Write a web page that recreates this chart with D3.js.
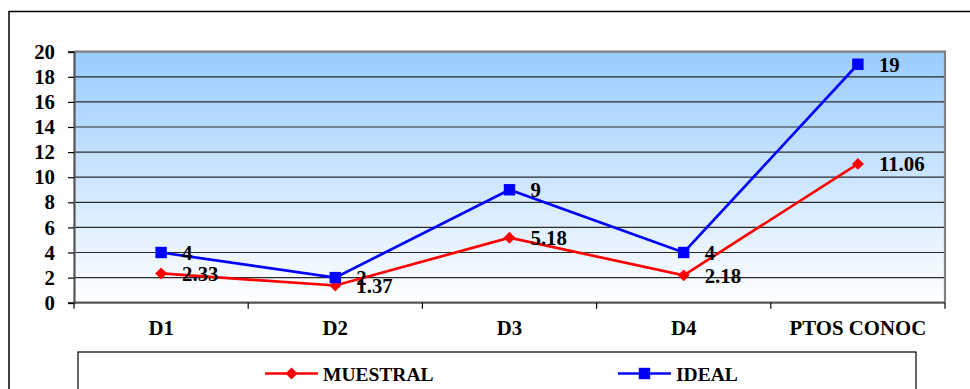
<!DOCTYPE html>
<html>
<head>
<meta charset="utf-8">
<script src="https://cdn.jsdelivr.net/npm/d3@7"></script>
<style>
  html, body { margin: 0; padding: 0; background: #fff; }
  svg { display: block; }
  svg text { font-family: "Liberation Serif", "Tinos", "Times New Roman", "Nimbus Roman", "DejaVu Serif", serif !important; font-weight: bold; fill: #000; }
</style>
</head>
<body>
<svg id="chart" width="970" height="389"></svg>
<script>
// Chart data
const categories = ["D1", "D2", "D3", "D4", "PTOS CONOC"];
const muestral = [2.33, 1.37, 5.18, 2.18, 11.06];
const ideal = [4, 2, 9, 4, 19];
const yTicks = [0, 2, 4, 6, 8, 10, 12, 14, 16, 18, 20];
const seriesNames = ["MUESTRAL", "IDEAL"];

const FONT = '"Liberation Serif", "Tinos", "Times New Roman", "Nimbus Roman", "DejaVu Serif", serif';
const LABEL_SIZE = 20.8;

const svg = d3.select("#chart");
const plot = { left: 74, right: 945, top: 51.7, bottom: 302.7 };

// Outer frame (extends past the window on the right and bottom)
svg.append("rect")
  .attr("x", 9).attr("y", 11.5)
  .attr("width", 1000).attr("height", 420)
  .attr("fill", "#fff").attr("stroke", "#000").attr("stroke-width", 1.5);

const x = d3.scaleBand().domain(categories).range([plot.left, plot.right]).padding(0);
const y = d3.scaleLinear().domain([0, 20]).range([plot.bottom, plot.top]);
const cx = c => x(c) + x.bandwidth() / 2;

// Plot background gradient
const defs = svg.append("defs");
const grad = defs.append("linearGradient").attr("id", "bg")
  .attr("x1", 0).attr("y1", 0).attr("x2", 0).attr("y2", 1);
grad.append("stop").attr("offset", "0%").attr("stop-color", "#99CCFF");
grad.append("stop").attr("offset", "100%").attr("stop-color", "#FFFFFF");

svg.append("rect")
  .attr("x", plot.left).attr("y", plot.top)
  .attr("width", plot.right - plot.left).attr("height", plot.bottom - plot.top)
  .attr("fill", "url(#bg)");

// Horizontal gridlines
svg.append("g").selectAll("line")
  .data(yTicks.filter(d => d > 0 && d < 20))
  .join("line")
  .attr("x1", plot.left).attr("x2", plot.right)
  .attr("y1", d => y(d)).attr("y2", d => y(d))
  .attr("stroke", "#2a2a2a").attr("stroke-width", 1.2);

// Top and right plot border
svg.append("path")
  .attr("d", `M${plot.left},${y(20)}H${plot.right}V${plot.bottom}`)
  .attr("fill", "none").attr("stroke", "#808080").attr("stroke-width", 2.2);

// Y axis
const yAxis = svg.append("g")
  .attr("transform", `translate(${plot.left},0)`)
  .call(d3.axisLeft(y).tickValues(yTicks).tickSize(6).tickPadding(13).tickFormat(d3.format("d")));
yAxis.attr("font-family", FONT).attr("font-size", LABEL_SIZE);
yAxis.select(".domain").attr("stroke", "#555").attr("stroke-width", 2.2);
yAxis.selectAll(".tick line").attr("stroke", "#000").attr("stroke-width", 1.2);
yAxis.selectAll(".tick text")
  .attr("font-size", LABEL_SIZE).attr("font-weight", "bold")
  .attr("fill", "#000");

// X axis: category boundary ticks and centred labels
const xAxis = svg.append("g");
xAxis.append("line")
  .attr("x1", plot.left).attr("x2", plot.right)
  .attr("y1", plot.bottom).attr("y2", plot.bottom)
  .attr("stroke", "#555").attr("stroke-width", 2.2);
const bounds = categories.map(c => x(c)).concat([x(categories[categories.length - 1]) + x.bandwidth()]);
xAxis.selectAll("line.tk").data(bounds).join("line").attr("class", "tk")
  .attr("x1", d => d).attr("x2", d => d)
  .attr("y1", plot.bottom).attr("y2", plot.bottom + 6)
  .attr("stroke", "#000").attr("stroke-width", 1.2);
xAxis.selectAll("text").data(categories).join("text")
  .attr("x", d => cx(d)).attr("y", 335)
  .attr("text-anchor", "middle").attr("font-size", LABEL_SIZE)
  .text(d => d);

// Series
const line = d3.line().x((d, i) => cx(categories[i])).y(d => y(d));
const diamond = d3.symbol().type(d3.symbolDiamond2).size(90);
const square = d3.symbol().type(d3.symbolSquare).size(130);

function drawSeries(values, color, symbol) {
  const g = svg.append("g");
  g.append("path").datum(values)
    .attr("d", line).attr("fill", "none")
    .attr("stroke", color).attr("stroke-width", 2.7);
  g.selectAll("path.m").data(values).join("path").attr("class", "m")
    .attr("d", symbol)
    .attr("transform", (d, i) => `translate(${cx(categories[i])},${y(d)})`)
    .attr("fill", color);
  return g;
}

drawSeries(muestral, "#FF0000", diamond);
drawSeries(ideal, "#0000FF", square);

// Value labels
function drawLabels(values) {
  svg.append("g").selectAll("text").data(values).join("text")
    .attr("x", (d, i) => cx(categories[i]) + 21)
    .attr("y", d => y(d)).attr("dy", "0.35em")
    .attr("font-size", LABEL_SIZE)
    .text(d => d);
}
drawLabels(muestral);
drawLabels(ideal);

// Legend
const legend = svg.append("g");
legend.append("rect")
  .attr("x", 78).attr("y", 352).attr("width", 838).attr("height", 60)
  .attr("fill", "#fff").attr("stroke", "#000").attr("stroke-width", 1.2);

const legendItems = [
  { name: seriesNames[0], color: "#FF0000", symbol: diamond, x0: 265 },
  { name: seriesNames[1], color: "#0000FF", symbol: square, x0: 618 }
];
legendItems.forEach(it => {
  legend.append("line")
    .attr("x1", it.x0).attr("x2", it.x0 + 53)
    .attr("y1", 373.5).attr("y2", 373.5)
    .attr("stroke", it.color).attr("stroke-width", 2.7);
  legend.append("path")
    .attr("d", it.symbol)
    .attr("transform", `translate(${it.x0 + 26.5},373.5)`)
    .attr("fill", it.color);
  legend.append("text")
    .attr("x", it.x0 + 58).attr("y", 380.5)
    .attr("font-size", 19.5)
    .text(it.name);
});
</script>
</body>
</html>
